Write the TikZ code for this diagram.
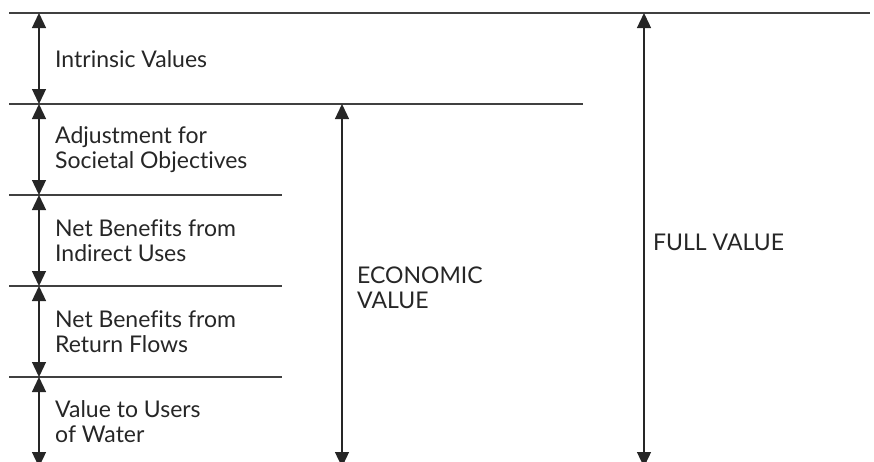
\documentclass[tikz,border=0pt]{standalone}
\usepackage{fontspec}
\setmainfont{Lato}[Ligatures=NoCommon]
\usetikzlibrary{arrows.meta}
\usetikzlibrary{positioning}
\tikzstyle{lbl} = [anchor=west, align=left, inner sep=0pt, text=black!85, font=\fontsize{23}{25}\selectfont]
\tikzstyle{rule} = [draw=black!75, line width=1.4pt]
\tikzstyle{span} = [draw=black!85, line width=1.3pt, {Triangle[width=14pt,length=15pt]}-{Triangle[width=14pt,length=15pt]}]

\begin{document}
\begin{tikzpicture}[x=1pt, y=-1pt]
\useasboundingbox (0,0) rectangle (874,461);

% Levels
\coordinate (l0) at (9,13);   \coordinate (r0) at (870,13);
\coordinate (l1) at (9,104);  \coordinate (r1) at (583,104);
\coordinate (l2) at (9,195);  \coordinate (r2) at (282,195);
\coordinate (l3) at (9,286);  \coordinate (r3) at (282,286);
\coordinate (l4) at (9,377);  \coordinate (r4) at (282,377);

% Arrow ends
\coordinate (a0) at (39,13);
\coordinate (a1) at (39,104);
\coordinate (a2) at (39,195);
\coordinate (a3) at (39,286);
\coordinate (a4) at (39,377);
\coordinate (a5) at (39,467);
\coordinate (e1) at (342,104);
\coordinate (e5) at (342,467);
\coordinate (f0) at (644,13);
\coordinate (f5) at (644,467);

% Define nodes
\node[lbl] (iv)  at (55,59)    {Intrinsic Values};
\node[lbl] (adj) at (55,150)   {Adjustment for\\Societal Objectives};
\node[lbl] (ind) at (55,241)   {Net Benefits from\\Indirect Uses};
\node[lbl] (ret) at (55,332)   {Net Benefits from\\Return Flows};
\node[lbl] (use) at (55,422)   {Value to Users\\of Water};
\node[lbl] (ev)  at (357,288)  {ECONOMIC\\VALUE};
\node[lbl] (fv)  at (653,242)  {FULL VALUE};

% Rules
\draw[rule] (l0) -- (r0);
\draw[rule] (l1) -- (r1);
\draw[rule] (l2) -- (r2);
\draw[rule] (l3) -- (r3);
\draw[rule] (l4) -- (r4);

% Spans
\draw[span] (a0) -- (a1);
\draw[span] (a1) -- (a2);
\draw[span] (a2) -- (a3);
\draw[span] (a3) -- (a4);
\draw[span] (a4) -- (a5);
\draw[span] (e1) -- (e5);
\draw[span] (f0) -- (f5);
\end{tikzpicture}
\end{document}
